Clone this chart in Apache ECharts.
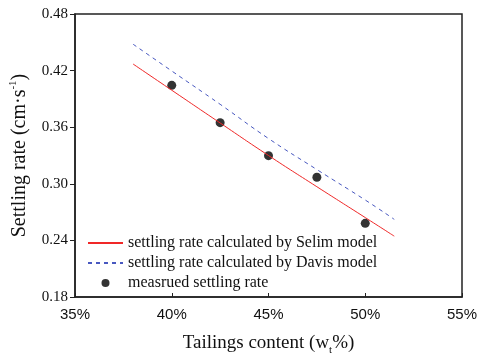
<!DOCTYPE html>
<html>
<head>
<meta charset="utf-8">
<script src="https://cdn.jsdelivr.net/npm/echarts@6/dist/echarts.min.js"></script>
<style>
html,body{margin:0;padding:0;background:#fff;}
#c{width:477px;height:355px;}
</style>
</head>
<body>
<div id="c"></div>
<script>
var selimX = [38, 40, 42.5, 45, 47.5, 50, 51.5];
var selimY = [0.427, 0.3992, 0.3645, 0.330, 0.2969, 0.2642, 0.2445];
var davisX = [38, 40, 42.5, 45, 47.5, 50, 51.5];
var davisY = [0.448, 0.4196, 0.3843, 0.348, 0.3151, 0.2828, 0.2623];
var measX = [40, 42.5, 45, 47.5, 50];
var measY = [0.4044, 0.3648, 0.3298, 0.3069, 0.2581];
var seriesNames = ['settling rate calculated by Selim model', 'settling rate calculated by Davis model', 'measrued settling rate'];

function pairs(xs, ys) { return xs.map(function (x, i) { return [x, ys[i]]; }); }

var chart = echarts.init(document.getElementById('c'), null, {renderer: 'canvas'});
var serif = '"Liberation Serif", "Times New Roman", serif';
var sans = '"Liberation Sans", Arial, sans-serif';
var hidden = {color: 'rgba(0,0,0,0)', borderWidth: 0, opacity: 0};
chart.setOption({
  animation: false,
  backgroundColor: '#fff',
  grid: {left: 75, right: 15, top: 14, bottom: 58, show: true, borderColor: '#222', borderWidth: 1.5,
    containLabel: false, outerBoundsMode: 'none'},
  legend: {
    orient: 'vertical', left: 87, top: 235, padding: 0, itemWidth: 35, itemHeight: 8, itemGap: 4,
    textStyle: {fontFamily: serif, fontSize: 16, color: '#111', lineHeight: 16},
    data: [
      {name: seriesNames[0], itemStyle: hidden},
      {name: seriesNames[1], itemStyle: hidden},
      {name: seriesNames[2]}
    ]
  },
  xAxis: {
    type: 'value', min: 35, max: 55, interval: 5,
    name: 'Tailings content (w{sub|t}%)', nameLocation: 'middle', nameGap: 34,
    nameTextStyle: {fontFamily: serif, fontSize: 19, color: '#111',
      rich: {sub: {fontFamily: serif, fontSize: 11, color: '#111', padding: [14, 0, 0, 0]}}},
    axisLine: {lineStyle: {color: '#222', width: 1.5}},
    axisTick: {inside: true, length: 4, lineStyle: {color: '#222', width: 1}},
    axisLabel: {fontFamily: sans, fontSize: 15, color: '#111', margin: 10, formatter: function (v) { return v + '%'; }},
    splitLine: {show: false}
  },
  yAxis: {
    type: 'value', min: 0.18, max: 0.48, interval: 0.06,
    name: 'Settling rate (cm·s{sup|-1})', nameLocation: 'middle', nameGap: 44, nameRotate: 90,
    nameTextStyle: {fontFamily: serif, fontSize: 20, color: '#111',
      rich: {sup: {fontFamily: serif, fontSize: 11, color: '#111', padding: [0, 0, 12, 0]}}},
    axisLine: {lineStyle: {color: '#222', width: 1.5}},
    axisTick: {inside: false, length: 5, lineStyle: {color: '#222', width: 1}},
    axisLabel: {fontFamily: serif, fontSize: 15, color: '#111', margin: 7, formatter: function (v) { return v.toFixed(2); }},
    splitLine: {show: false}
  },
  series: [
    {name: seriesNames[0], type: 'line', data: pairs(selimX, selimY), symbol: 'none', smooth: true,
      lineStyle: {color: '#f02828', width: 1}, itemStyle: {color: '#f02828'}},
    {name: seriesNames[1], type: 'line', data: pairs(davisX, davisY), symbol: 'none', smooth: true,
      lineStyle: {color: '#4858c0', width: 1, type: [4, 4]}, itemStyle: {color: '#4858c0'}},
    {name: seriesNames[2], type: 'scatter', data: pairs(measX, measY), symbol: 'circle', symbolSize: 9,
      itemStyle: {color: '#000'}}
  ]
});
</script>
</body>
</html>
